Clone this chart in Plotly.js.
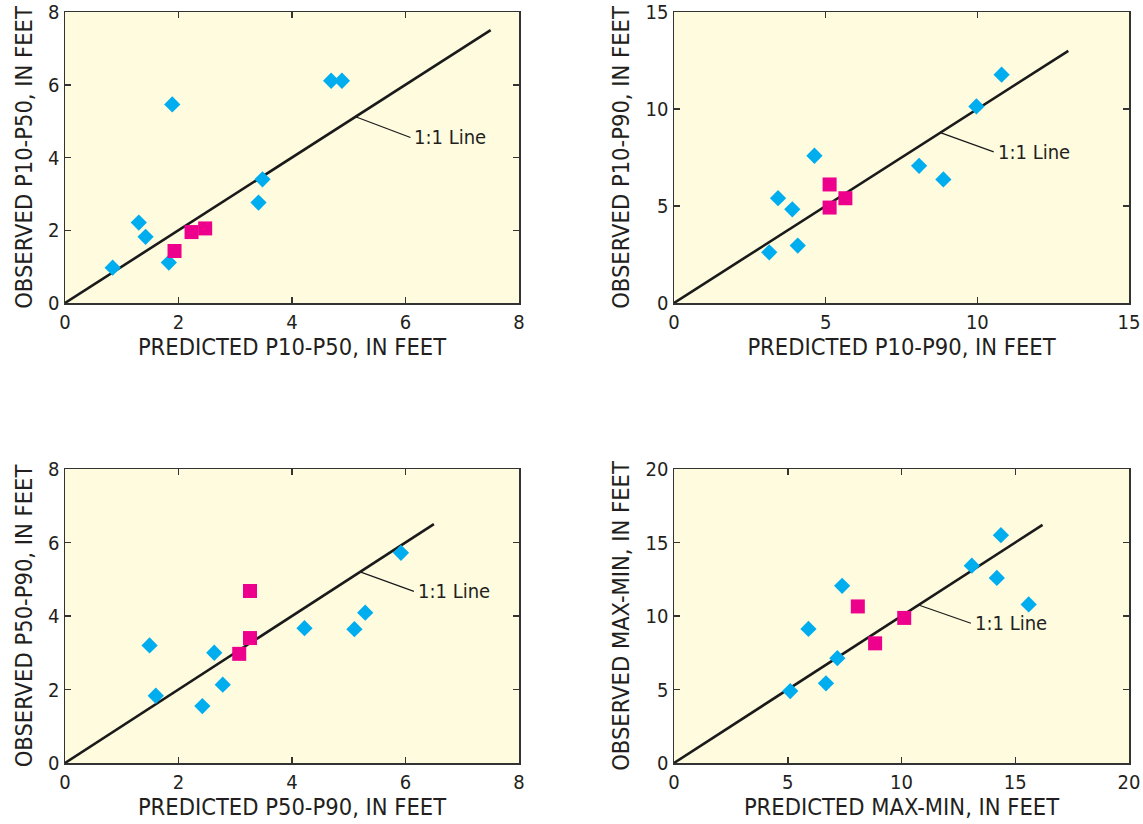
<!DOCTYPE html>
<html>
<head>
<meta charset="utf-8">
<script src="https://cdn.plot.ly/plotly-3.0.1.min.js"></script>
<style>html,body{margin:0;padding:0;background:#fff;}#chart{width:1143px;height:824px;}</style>
</head>
<body>
<div id="chart"></div>
<script>
// ---- Data ----
const xTitles = ["PREDICTED P10-P50, IN FEET", "PREDICTED P10-P90, IN FEET", "PREDICTED P50-P90, IN FEET", "PREDICTED MAX-MIN, IN FEET"];
const yTitles = ["OBSERVED P10-P50, IN FEET", "OBSERVED P10-P90, IN FEET", "OBSERVED P50-P90, IN FEET", "OBSERVED MAX-MIN, IN FEET"];
const axisMax = [8, 15, 8, 20];
const tickStep = [2, 5, 2, 5];

// blue diamonds
const blueX1 = [0.84, 1.30, 1.42, 1.83, 1.89, 3.41, 3.48, 4.69, 4.88];
const blueY1 = [0.97, 2.21, 1.82, 1.11, 5.46, 2.76, 3.40, 6.11, 6.11];
const blueX2 = [3.14, 3.43, 3.90, 4.08, 4.63, 8.08, 8.88, 9.97, 10.80];
const blueY2 = [2.61, 5.40, 4.83, 2.96, 7.59, 7.07, 6.37, 10.13, 11.77];
const blueX3 = [1.49, 1.60, 2.42, 2.63, 2.78, 4.22, 5.10, 5.29, 5.92];
const blueY3 = [3.20, 1.83, 1.55, 3.00, 2.13, 3.67, 3.64, 4.09, 5.72];
const blueX4 = [5.11, 5.91, 6.68, 7.18, 7.39, 13.09, 14.19, 14.37, 15.59];
const blueY4 = [4.89, 9.12, 5.42, 7.13, 12.05, 13.42, 12.59, 15.50, 10.79];

// magenta squares
const pinkX1 = [1.93, 2.23, 2.47];
const pinkY1 = [1.43, 1.95, 2.05];
const pinkX2 = [5.13, 5.13, 5.65];
const pinkY2 = [6.11, 4.92, 5.40];
const pinkX3 = [3.07, 3.26, 3.26];
const pinkY3 = [2.97, 3.40, 4.68];
const pinkX4 = [8.08, 8.84, 10.12];
const pinkY4 = [10.65, 8.14, 9.87];

// 1:1 line extent, and its label
const oneToOneEnd = [7.5, 13.0, 6.5, 16.2];
const lineLabel = "1:1 Line";
const labelAtX = [6.12, 10.6, 6.18, 13.13];
const labelAtY = [4.55, 7.79, 4.67, 9.51];
const leaderFrom = [5.12, 8.78, 5.2, 10.75];

// ---- Styling ----
const FONT = "'Liberation Sans Narrow', 'DejaVu Sans Condensed', 'Arial Narrow', sans-serif";
const TXT = "#231F20";
const BLUE = "#00AEEF";
const PINK = "#EC008C";

const blueX = [blueX1, blueX2, blueX3, blueX4];
const blueY = [blueY1, blueY2, blueY3, blueY4];
const pinkX = [pinkX1, pinkX2, pinkX3, pinkX4];
const pinkY = [pinkY1, pinkY2, pinkY3, pinkY4];

const W = 1143, H = 824;
const xDom = [[65 / W, 519 / W], [674 / W, 1129 / W], [65 / W, 519 / W], [674 / W, 1129 / W]];
const yDom = [[1 - 303 / H, 1 - 12 / H], [1 - 303 / H, 1 - 12 / H], [1 - 763 / H, 1 - 469 / H], [1 - 763 / H, 1 - 469 / H]];

const traces = [];
const layout = {
  width: W, height: H,
  margin: {l: 0, r: 0, t: 0, b: 0},
  paper_bgcolor: "#ffffff",
  plot_bgcolor: "rgba(0,0,0,0)",
  showlegend: false,
  font: {family: FONT, color: TXT},
  shapes: [], annotations: []
};

for (let i = 0; i < 4; i++) {
  const n = i + 1;
  const xa = n === 1 ? "x" : "x" + n;
  const ya = n === 1 ? "y" : "y" + n;
  const xk = n === 1 ? "xaxis" : "xaxis" + n;
  const yk = n === 1 ? "yaxis" : "yaxis" + n;

  traces.push({
    x: [0, oneToOneEnd[i]], y: [0, oneToOneEnd[i]], xaxis: xa, yaxis: ya,
    mode: "lines", line: {color: "#1a1a1a", width: 2.6}, hoverinfo: "skip"
  });
  traces.push({
    x: blueX[i], y: blueY[i], xaxis: xa, yaxis: ya, mode: "markers",
    marker: {symbol: "diamond", size: 12.5, color: BLUE, line: {width: 0}}
  });
  traces.push({
    x: pinkX[i], y: pinkY[i], xaxis: xa, yaxis: ya, mode: "markers",
    marker: {symbol: "square", size: 14, color: PINK, line: {width: 0}}
  });

  const common = {
    range: [0, axisMax[i]], dtick: tickStep[i], tick0: 0,
    showgrid: false, zeroline: false,
    showline: true, linecolor: "#333333", linewidth: 1.5, mirror: "ticks",
    ticks: "inside", ticklen: 6, tickwidth: 1.5, tickcolor: "#333333",
    tickfont: {family: FONT, size: 20, color: TXT},
    fixedrange: true, automargin: false
  };
  layout[xk] = Object.assign({}, common, {
    domain: xDom[i], anchor: ya,
    title: {text: xTitles[i], font: {family: FONT, size: 23.5, color: TXT}, standoff: 3}
  });
  layout[yk] = Object.assign({}, common, {
    domain: yDom[i], anchor: xa,
    title: {text: yTitles[i], font: {family: FONT, size: 23.5, color: TXT}, standoff: 9}
  });

  layout.shapes.push({
    type: "rect", xref: xa + " domain", yref: ya + " domain", x0: 0, x1: 1, y0: 0, y1: 1,
    fillcolor: "#FEFBDF", line: {width: 0}, layer: "below"
  });
  layout.shapes.push({
    type: "line", xref: xa, yref: ya,
    x0: leaderFrom[i], y0: leaderFrom[i], x1: labelAtX[i] - axisMax[i] * 0.004, y1: labelAtY[i],
    line: {color: "#1a1a1a", width: 1.2}
  });
  layout.annotations.push({
    xref: xa, yref: ya, x: labelAtX[i], y: labelAtY[i], text: lineLabel,
    showarrow: false, xanchor: "left", yanchor: "middle",
    font: {family: FONT, size: 20, color: TXT}
  });
}

Plotly.newPlot("chart", traces, layout, {displayModeBar: false, staticPlot: true});
</script>
</body>
</html>
